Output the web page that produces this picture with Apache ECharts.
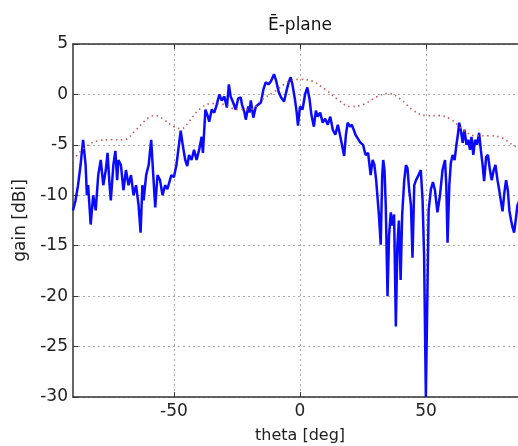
<!DOCTYPE html>
<html>
<head>
<meta charset="utf-8">
<script src="https://cdn.jsdelivr.net/npm/echarts@6/dist/echarts.min.js"></script>
<style>
  html, body { margin: 0; padding: 0; background: #fff; }
  #chart { width: 518px; height: 446px; }
</style>
</head>
<body>
<div id="chart"></div>
<script>
// gain pattern, E-plane: [theta deg, gain dBi]
const measured = [
  [-90, -11.5], [-89, -10.5], [-88, -9], [-87, -7], [-86, -4.5], [-85, -7], [-84.5, -10],
  [-84, -9], [-83, -12.9], [-82, -10], [-81, -11.5], [-80, -8], [-79, -6.5], [-78, -9],
  [-77, -7.5], [-76.3, -5.8], [-75.5, -9], [-75, -10.5], [-74, -7], [-73.2, -5.6],
  [-72.5, -8.5], [-72, -6.5], [-71, -7], [-70, -9.5], [-69, -7.5], [-68, -9], [-67, -8],
  [-66, -10], [-65, -9], [-64, -11], [-63.2, -13.7], [-62.5, -9], [-62, -10.5], [-61, -8],
  [-60, -7], [-59, -4.5], [-58.3, -7.5], [-57.4, -11.2], [-56.5, -8], [-55.5, -8.5],
  [-54.5, -10], [-53.5, -9], [-52.6, -9.4], [-51, -8], [-50, -8.2], [-49, -7], [-48, -5],
  [-47.3, -3.6], [-46.5, -5], [-45.5, -6.5], [-44.7, -7.1], [-44, -6], [-43, -6.5],
  [-42, -5.5], [-41, -6.5], [-40, -5.5], [-39, -4.2], [-38.5, -5.8], [-37.5, -1.5],
  [-36.5, -2.2], [-36, -2.7], [-35, -1.5], [-34, -1.8], [-33, -1.0], [-32, 0], [-31, -0.6],
  [-30, -0.2], [-29, -1.3], [-28.2, 1.0], [-27.5, -0.2], [-26.5, -0.8], [-25.5, -1.5],
  [-24.5, -0.4], [-23.5, -0.3], [-23, -1.0], [-22, -1.8], [-21.5, -2.5], [-20.5, -1.2],
  [-20, -1.8], [-19.5, -0.6], [-18.5, -2.3], [-17.5, -1.2], [-16.5, -1.0], [-15.5, -0.8],
  [-14.5, 0.5], [-13.6, 1.2], [-12.5, 1.0], [-11.5, 1.3], [-10.3, 2.0], [-9.5, 1.4],
  [-8.5, 0.3], [-7.5, -0.3], [-6.3, -0.7], [-5.5, 0.2], [-4.5, 1.2], [-3.7, 1.7], [-3, 1.0],
  [-2, -0.5], [-1.3, -1.8], [-0.8, -3.1], [0, -1.2], [1, -1.5], [2, 0], [2.9, 0.7],
  [3.8, -0.5], [4.5, -2.0], [5.5, -3.2], [6.3, -1.6], [7, -2.2], [8, -1.8], [9, -2.8],
  [10, -2.4], [11, -3.0], [12, -2.2], [13, -3.5], [14, -4.0], [15, -3.0], [16, -4.2],
  [17.5, -6.1], [18.2, -4.0], [18.9, -2.8], [19.8, -3.2], [20.5, -3.0], [21.3, -3.5],
  [22, -4.0], [23, -4.4], [24, -4.8], [25, -5.0], [26, -6.0], [27, -5.8], [28, -8.0],
  [28.8, -6.5], [29.5, -7.0], [30.2, -8.5], [30.7, -10.1], [31.3, -12.0], [32, -14.9],
  [32.6, -8.0], [33, -6.5], [33.5, -7.5], [34, -11], [34.7, -20], [35.3, -14], [36, -11.7],
  [36.6, -13], [37.3, -11.9], [38, -23], [38.6, -15], [39.2, -12.5], [39.9, -18.4],
  [40.5, -12], [41.3, -8.6], [42, -7.0], [42.6, -7.3], [43.3, -9.5], [44, -11.0],
  [44.6, -16.2], [45.3, -9.0], [46, -8.5], [47, -8.0], [47.9, -7.5], [48.6, -10.5],
  [49.2, -16], [49.9, -30], [50.5, -20], [51, -11.5], [51.9, -9.4], [52.7, -8.7],
  [53.5, -9.5], [54.5, -11.7], [55.5, -10.0], [56.5, -7.5], [57.5, -6.5], [58, -9],
  [58.5, -14.7], [59.2, -9.0], [59.8, -6.8], [60.5, -6.0], [61.3, -6.5], [62, -5.0],
  [62.6, -4.0], [63.1, -2.8], [63.8, -3.6], [64.5, -4.8], [65.2, -3.5], [66, -5.0],
  [66.7, -4.5], [67.4, -5.5], [68, -4.2], [68.7, -6.0], [69.4, -4.5], [70.2, -5.0],
  [71, -3.8], [71.7, -5.5], [72.4, -7.0], [73, -8.6], [73.8, -6.2], [74.5, -6.0],
  [75.3, -7.5], [76, -8.5], [76.8, -7.5], [77.5, -7.0], [78.3, -8.5], [79, -9.5],
  [79.6, -10.5], [80.3, -11.6], [81, -9.8], [81.7, -8.5], [82.4, -9.5], [83, -11.5],
  [83.7, -12.5], [84.3, -13.2], [84.9, -13.7], [85.5, -12.5], [86.2, -11.0], [87, -10.5],
  [87.7, -11.8], [88.5, -12.5], [90, -12]
];

const simulated = [
  [-90, -6.5], [-85, -5.2], [-80, -4.6], [-75, -4.5], [-70, -4.5], [-65, -3.5],
  [-60, -2.3], [-57, -2.1], [-54, -2.5], [-50, -3.2], [-47, -3.4], [-44, -2.7],
  [-40, -1.5], [-35, -0.9], [-30, -1.0], [-25, -1.5], [-20, -1.5], [-15, -0.5],
  [-10, 0.3], [-5, 1.2], [0, 1.5], [5, 1.3], [10, 0.5], [15, -0.5], [20, -1.2],
  [25, -1.0], [30, -0.3], [35, 0.1], [40, -0.5], [45, -1.6], [50, -2.1], [55, -2.1],
  [60, -2.5], [65, -3.6], [70, -4.1], [75, -4.1], [80, -4.3], [85, -5.1], [90, -5.6]
];

const thetaTicks = [-50, 0, 50];
const titleText = 'Ē-plane';

const font = 'DejaVu Sans';
const ink = '#222';

const chart = echarts.init(document.getElementById('chart'));

const gridLine = { show: true, lineStyle: { color: '#aaa', type: [2, 3], width: 1 } };

chart.setOption({
  animation: false,
  backgroundColor: '#fff',
  // plot runs past the right edge of the picture, like the cropped original
  grid: { left: 73, top: 44, bottom: 49, right: -9, outerBoundsMode: 'none', containLabel: false },
  xAxis: [
    {
      type: 'value', min: -90, max: 90,
      name: 'theta [deg]', nameLocation: 'middle', nameGap: 31,
      nameTextStyle: { fontFamily: font, fontSize: 16, color: ink },
      axisLine: { show: true, onZero: false, lineStyle: { color: '#333', width: 1.5 } },
      axisTick: { show: true, inside: true, length: 5, customValues: thetaTicks, lineStyle: { color: '#333' } },
      axisLabel: { customValues: thetaTicks, margin: 6, fontFamily: font, fontSize: 17, color: ink },
      splitLine: gridLine
    },
    {
      type: 'value', min: -90, max: 90, position: 'top',
      name: titleText, nameLocation: 'middle', nameGap: 10,
      nameTextStyle: { fontFamily: font, fontSize: 17, color: '#111' },
      axisLine: { show: true, onZero: false, lineStyle: { color: '#333', width: 1.5 } },
      axisTick: { show: true, inside: true, length: 5, customValues: thetaTicks, lineStyle: { color: '#333' } },
      axisLabel: { show: false },
      splitLine: { show: false }
    }
  ],
  yAxis: {
    type: 'value', min: -30, max: 5, interval: 5,
    name: 'gain [dBi]', nameLocation: 'middle', nameGap: 36,
    nameTextStyle: { fontFamily: font, fontSize: 17, color: ink },
    axisLine: { show: true, onZero: false, lineStyle: { color: '#333', width: 1.5 } },
    axisTick: { show: true, inside: true, length: 5, lineStyle: { color: '#333' } },
    axisLabel: { margin: 5, fontFamily: font, fontSize: 17, color: ink },
    splitLine: gridLine
  },
  series: [
    {
      name: 'measured', type: 'line', data: measured,
      showSymbol: false, symbol: 'none', clip: true,
      lineStyle: { color: '#0a0aff', width: 2.5 },
      z: 2
    },
    {
      name: 'simulated', type: 'line', data: simulated,
      showSymbol: false, symbol: 'none', smooth: 0.4, clip: true,
      lineStyle: { color: '#c65a5a', width: 1.6, type: [1.5, 3.5] },
      z: 3
    }
  ]
});
</script>
</body>
</html>
